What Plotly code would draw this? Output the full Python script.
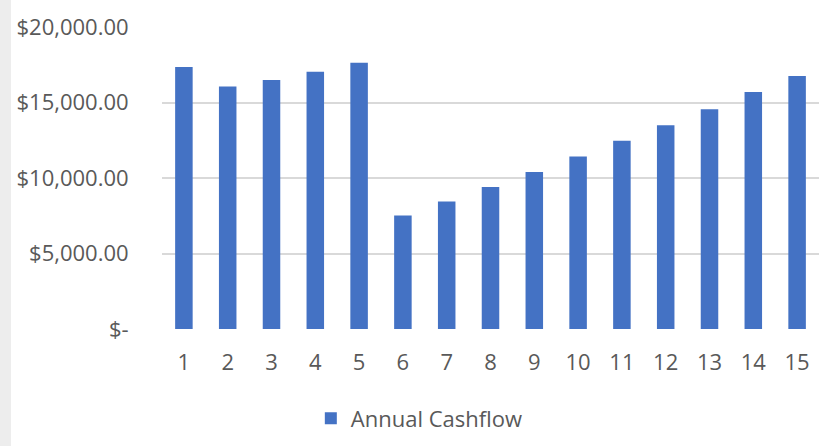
import plotly.graph_objects as go

years = [str(i) for i in range(1, 16)]
cashflow = [17350, 16060, 16490, 17040, 17630, 7510, 8440, 9410, 10390,
            11420, 12460, 13500, 14560, 15690, 16750]
series_name = "Annual Cashflow"
ytick_vals = [0, 5000, 10000, 15000, 20000]
ytick_text = ["$-", "$5,000.00", "$10,000.00", "$15,000.00", "$20,000.00"]

fig = go.Figure()
fig.add_trace(go.Bar(
    x=years, y=cashflow, name=series_name,
    marker=dict(color="#4472C4", line=dict(width=0)),
    showlegend=True,
))

font_family = "Open Sans, Lato, sans-serif"
fig.update_layout(
    width=832, height=446,
    margin=dict(l=162, r=13, t=27, b=117),
    paper_bgcolor="white", plot_bgcolor="white",
    bargap=0.6,
    font=dict(family=font_family, size=22, color="#595959"),
    showlegend=True,
    legend=dict(
        orientation="h", xref="container", yref="container",
        x=0.504, xanchor="center", y=0.062, yanchor="middle",
        font=dict(size=22, color="#595959"),
        itemwidth=30,
    ),
    xaxis=dict(
        type="category", range=[-0.5, 14.5],
        showgrid=False, zeroline=False, showline=False,
        ticks="outside", ticklen=14, tickcolor="rgba(0,0,0,0)",
        tickfont=dict(size=22, color="#595959"),
    ),
    yaxis=dict(
        range=[0, 20000],
        tickvals=ytick_vals, ticktext=ytick_text,
        showgrid=True, gridcolor="#d9d9d9", gridwidth=1.5,
        zeroline=False, showline=False,
        ticks="outside", ticklen=28, tickcolor="rgba(0,0,0,0)",
        tickfont=dict(size=22, color="#595959"),
    ),
    shapes=[dict(
        type="rect", xref="paper", yref="paper",
        x0=-0.2466, x1=-0.2298, y0=-0.5, y1=1.2,
        fillcolor="#ededed", line=dict(width=0), layer="below",
    )],
)

fig.write_html("out.html")
